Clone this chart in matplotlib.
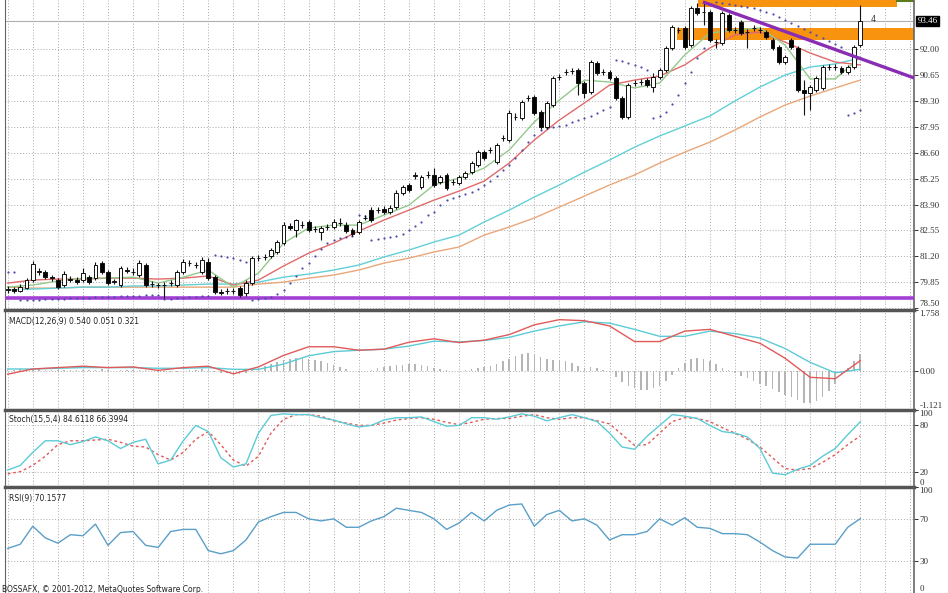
import matplotlib
matplotlib.use("Agg")
import matplotlib.pyplot as plt
from matplotlib.transforms import blended_transform_factory

# --- daily bars (price) ---
opens = [79.45, 79.50, 79.39, 79.55, 79.97, 80.44, 80.38, 80.12, 79.97, 79.71,
         80.02, 79.97, 79.97, 80.12, 80.07, 80.85, 80.38, 79.86, 79.71, 80.49,
         80.38, 80.23, 80.75, 79.76, 79.71, 79.71, 79.81, 79.71, 80.38, 80.85,
         80.75, 80.38, 80.90, 80.12, 79.34, 79.39, 79.39, 79.55, 79.29, 79.81,
         81.11, 81.17, 81.22, 81.43, 81.89, 82.78, 82.57, 82.83, 82.99, 82.62,
         82.47, 82.73, 82.73, 82.94, 82.83, 82.57, 82.47, 83.20, 83.61, 83.61,
         83.66, 83.51, 83.77, 84.50, 84.92, 85.38, 84.81, 85.44, 85.44, 85.07,
         85.44, 85.07, 85.02, 85.33, 85.59, 85.96, 86.63, 86.74, 86.11, 87.36,
         87.26, 88.46, 88.40, 89.45, 89.50, 88.72, 87.94, 89.08, 90.54, 90.80,
         90.85, 90.90, 90.23, 89.76, 91.27, 90.80, 90.80, 90.49, 89.45, 88.46,
         90.23, 90.28, 90.38, 90.02, 90.54, 90.90, 92.05, 92.99, 93.09, 92.21,
         94.13, 93.93, 93.93, 92.36, 92.31, 93.77, 92.99, 93.40, 92.88, 93.09,
         92.99, 92.88, 92.47, 92.10, 91.32, 92.47, 92.05, 89.86, 89.71, 89.86,
         89.97, 91.06, 91.06, 91.01, 90.80, 91.06, 92.21]
closes = [79.50, 79.39, 79.60, 79.97, 80.80, 80.38, 80.12, 80.07, 79.60, 80.28,
          79.97, 79.86, 80.33, 79.86, 80.75, 80.38, 79.81, 79.92, 80.59, 80.46,
          80.40, 80.85, 79.71, 79.74, 79.70, 79.72, 79.82, 80.38, 80.90, 80.84,
          80.74, 81.01, 80.07, 79.34, 79.32, 79.38, 79.40, 79.19, 79.81, 81.11,
          81.13, 81.16, 81.53, 81.95, 82.83, 82.68, 83.09, 82.82, 82.57, 82.63,
          82.68, 82.74, 82.99, 82.93, 82.52, 82.36, 82.99, 83.21, 83.09, 83.62,
          83.51, 83.72, 84.50, 84.81, 84.65, 85.44, 85.33, 85.43, 84.92, 85.33,
          84.76, 85.06, 85.33, 85.54, 86.06, 86.63, 86.32, 86.73, 86.99, 87.37,
          88.66, 88.45, 89.24, 89.46, 88.66, 87.94, 89.19, 90.49, 90.55, 90.81,
          90.84, 90.23, 89.71, 91.32, 90.75, 90.81, 90.49, 89.45, 88.46, 90.12,
          90.24, 90.27, 90.12, 90.54, 90.90, 92.05, 93.14, 92.98, 92.10, 94.13,
          93.87, 93.92, 92.47, 92.37, 93.87, 92.99, 93.00, 92.83, 92.89, 93.08,
          93.00, 92.62, 92.05, 91.32, 91.58, 92.10, 89.86, 89.71, 90.02, 90.49,
          91.06, 91.07, 91.05, 90.80, 91.06, 92.10, 93.46]
highs = [79.66, 79.60, 79.76, 80.07, 80.96, 80.59, 80.49, 80.23, 80.07, 80.44,
         80.18, 80.12, 80.59, 80.23, 80.90, 80.96, 80.49, 80.02, 80.70, 80.64,
         80.59, 81.01, 80.85, 79.92, 79.81, 79.86, 79.97, 80.49, 81.06, 81.01,
         80.90, 81.17, 81.11, 80.23, 79.50, 79.55, 79.55, 79.66, 79.97, 81.22,
         81.27, 81.32, 81.63, 82.05, 82.99, 82.94, 83.14, 83.04, 83.09, 82.78,
         82.78, 82.88, 83.14, 83.20, 82.99, 82.68, 83.09, 83.35, 83.77, 83.77,
         83.82, 83.87, 84.65, 84.92, 85.02, 85.59, 85.44, 85.64, 85.80, 85.44,
         85.54, 85.23, 85.44, 85.64, 86.16, 86.74, 86.74, 86.89, 87.10, 87.52,
         88.82, 88.66, 89.34, 89.60, 89.60, 88.82, 89.29, 90.59, 90.70, 90.96,
         91.01, 91.01, 90.33, 91.43, 91.37, 90.96, 90.90, 90.59, 89.55, 90.23,
         90.38, 90.44, 90.49, 90.75, 91.01, 92.15, 93.25, 93.14, 93.20, 94.24,
         94.39, 94.45, 94.03, 92.52, 93.98, 93.87, 93.14, 93.51, 93.04, 93.25,
         93.14, 92.99, 92.57, 92.21, 91.69, 92.57, 92.15, 90.38, 90.12, 90.59,
         91.17, 91.22, 91.22, 91.11, 91.17, 92.21, 94.29]
lows = [79.29, 79.29, 79.34, 79.50, 79.86, 80.23, 80.02, 79.92, 79.50, 79.60,
        79.86, 79.76, 79.86, 79.76, 79.97, 80.28, 79.71, 79.76, 79.60, 80.33,
        80.23, 80.12, 79.60, 79.60, 79.55, 79.03, 79.66, 79.60, 80.28, 80.70,
        80.59, 80.28, 79.97, 79.24, 79.19, 79.24, 79.24, 79.08, 79.13, 79.71,
        80.96, 81.01, 81.11, 81.32, 81.79, 82.57, 82.21, 82.68, 82.47, 82.47,
        82.05, 82.57, 82.62, 82.78, 82.42, 82.26, 82.36, 83.09, 82.99, 83.46,
        83.40, 83.40, 83.66, 84.39, 84.55, 85.23, 84.71, 85.28, 84.81, 84.97,
        84.65, 84.92, 84.92, 85.23, 85.49, 85.85, 86.22, 86.58, 86.01, 87.21,
        87.15, 88.30, 88.30, 89.29, 88.56, 87.83, 87.83, 88.98, 90.38, 90.64,
        90.70, 89.60, 89.45, 89.65, 90.64, 90.64, 90.38, 89.34, 88.35, 88.35,
        90.07, 90.12, 90.02, 89.76, 90.44, 90.80, 91.95, 92.83, 92.00, 92.10,
        93.77, 93.25, 92.36, 92.05, 92.21, 92.88, 92.83, 92.73, 92.05, 92.94,
        92.83, 92.52, 91.95, 91.22, 91.22, 92.00, 89.76, 88.56, 88.82, 89.76,
        89.86, 90.90, 90.90, 90.70, 90.70, 90.96, 92.10]

# parabolic SAR, one dot per bar
sar = [80.38, 80.38,
       78.92, 78.92, 78.92, 78.92, 78.98, 78.98, 78.98, 78.98, 79.03, 79.03, 79.03, 79.03,
       79.08, 79.08, 79.08, 79.08, 79.13, 79.13, 79.13, 79.13, 79.19, 79.19, 79.19,
       78.98, 78.98, 79.03, 79.03, 79.08, 79.08, 79.13, 79.13,
       81.27, 81.22, 81.17, 81.11, 81.01, 80.90,
       78.92, 78.98, 79.03, 79.08, 79.24, 79.45, 79.81, 80.18, 80.59, 80.85, 81.22, 81.58,
       81.89, 82.05, 82.16, 82.21, 82.26,
       83.35, 83.30,
       82.05, 82.10, 82.16, 82.21, 82.26, 82.36, 82.57, 82.78, 82.99, 83.35, 83.51, 83.87,
       84.13, 84.24, 84.34, 84.45, 84.55, 84.71, 84.92, 85.12, 85.38, 85.70, 85.96, 86.32,
       86.74, 87.15, 87.52, 87.78, 87.88, 87.94, 87.99, 88.04,
       88.20, 88.30, 88.40, 88.51, 88.66, 88.82, 88.98,
       91.43, 91.37, 91.27, 91.17, 91.06, 90.90,
       88.40, 88.51, 88.72, 89.13, 89.60, 90.23, 90.80,
       91.53, 92.05, 92.47,
       94.45, 94.39, 94.34, 94.29, 94.24, 94.19, 94.13, 94.03, 93.93, 93.82, 93.66, 93.51,
       93.35, 93.20, 93.04, 92.88, 92.73, 92.57, 92.41, 92.26, 92.10,
       88.56, 88.66, 88.82]

# moving averages, read every 4th bar
ma_bars = list(range(0, 137, 4))
ma_green = [79.60, 79.71, 79.92, 80.07, 80.07, 80.12, 79.81, 80.12, 80.49, 79.60,
            80.33, 81.89, 82.68, 82.83, 82.83, 83.35, 83.87, 84.92, 85.28, 85.80,
            86.74, 88.20, 89.34, 90.38, 90.28, 89.97, 90.23, 91.69, 92.83, 92.99,
            93.09, 92.21, 90.44, 90.44, 91.58]
ma_red = [79.81, 79.97, 80.02, 80.02, 80.07, 80.07, 80.02, 80.07, 80.18, 79.71,
          79.97, 80.70, 81.37, 81.89, 82.52, 83.09, 83.61, 84.13, 84.60, 85.12,
          86.06, 87.26, 88.30, 89.19, 90.12, 90.38, 90.59, 91.17, 92.05, 92.73,
          92.88, 92.36, 91.79, 91.32, 91.17]
ma_cyan = [79.45, 79.50, 79.55, 79.60, 79.60, 79.66, 79.66, 79.71, 79.76, 79.76,
           79.86, 80.12, 80.28, 80.49, 80.75, 81.17, 81.53, 81.95, 82.31, 82.99,
           83.61, 84.29, 84.92, 85.59, 86.22, 86.89, 87.47, 87.99, 88.51, 89.29,
           90.02, 90.64, 91.06, 91.22, 91.53]
ma_orange = [79.60, 79.55, 79.55, 79.60, 79.60, 79.60, 79.60, 79.60, 79.60, 79.60,
             79.76, 79.86, 80.07, 80.23, 80.49, 80.85, 81.11, 81.43, 81.69, 82.31,
             82.73, 83.20, 83.77, 84.34, 84.92, 85.44, 86.06, 86.63, 87.15, 87.78,
             88.46, 89.08, 89.55, 89.97, 90.38]

# MACD lines (every 4th bar) and histogram (every bar)
macd_main = [-0.09, 0.06, 0.10, 0.14, 0.10, 0.12, 0.02, 0.10, 0.14, -0.08,
             0.12, 0.45, 0.70, 0.70, 0.60, 0.63, 0.83, 0.93, 0.82, 0.89,
             1.05, 1.33, 1.48, 1.45, 1.30, 0.85, 0.85, 1.15, 1.20, 1.00,
             0.80, 0.37, -0.18, -0.22, 0.30]
macd_signal = [0.06, 0.06, 0.08, 0.10, 0.10, 0.10, 0.08, 0.08, 0.10, 0.05,
               0.05, 0.20, 0.44, 0.56, 0.60, 0.63, 0.72, 0.86, 0.84, 0.88,
               0.97, 1.15, 1.30, 1.42, 1.38, 1.20, 1.00, 1.00, 1.15, 1.08,
               0.95, 0.65, 0.25, -0.05, 0.05]
macd_hist = [0.03, 0.04, 0.05, 0.05, 0.06, 0.05, 0.04, 0.03, 0.02, 0.02, 0.03,
             0.03, 0.04, 0.03, 0.04, 0.05, 0.03, 0.01, 0.02, 0.03, 0.03,
             0.04, 0.02, 0.00, -0.02, -0.03, -0.03, -0.02, 0.00, 0.02, 0.04,
             0.05, 0.03, -0.02, -0.05, -0.07, -0.08, -0.08, -0.06,
             0.02, 0.08, 0.14, 0.20, 0.26, 0.32, 0.36, 0.38, 0.38, 0.36, 0.33, 0.30,
             0.24, 0.18, 0.12, 0.06, 0.00, -0.03, 0.00, 0.04, 0.08, 0.12, 0.15, 0.17,
             0.18, 0.19, 0.19, 0.17, 0.14, 0.10, 0.06, 0.02, 0.00, 0.01,
             0.04, 0.06, 0.10, 0.12, 0.15, 0.20, 0.28, 0.36,
             0.44, 0.50, 0.52, 0.48, 0.40, 0.36, 0.32, 0.30, 0.28, 0.22, 0.15,
             0.10, 0.12, 0.08, 0.04, -0.02,
             -0.18, -0.32, -0.42, -0.50, -0.54, -0.54, -0.50, -0.42, -0.30,
             -0.12, 0.08, 0.24, 0.34, 0.38, 0.36, 0.30, 0.20,
             0.10, 0.02, -0.06, -0.14, -0.20,
             -0.28, -0.36, -0.44, -0.52, -0.60, -0.68, -0.76, -0.84, -0.92, -0.92, -0.86, -0.74, -0.58,
             -0.36, -0.12, 0.10, 0.30, 0.48]

# oscillators, read every 2nd bar
osc_bars = list(range(0, 137, 2))
stoch_main = [22, 28, 45, 60, 60, 55, 59, 65, 60, 50, 58, 62, 30, 35, 60, 80, 72, 38, 26, 30,
              70, 93, 95, 94, 94, 90, 87, 82, 78, 80, 87, 90, 90, 91, 85, 79, 80, 90, 90, 88,
              91, 95, 92, 86, 90, 94, 90, 85, 70, 52, 49, 66, 80, 94, 92, 89, 80, 72, 70, 65,
              50, 18, 16, 23, 28, 40, 50, 68, 84.61]
stoch_signal = [17, 20, 28, 40, 55, 60, 60, 61, 62, 58, 53, 52, 42, 35, 45, 62, 72, 55, 35, 27,
                40, 70, 88, 94, 94, 92, 86, 83, 80, 80, 83, 87, 89, 90, 88, 84, 81, 84, 88, 89,
                89, 92, 94, 90, 88, 90, 90, 86, 82, 68, 54, 55, 70, 85, 90, 89, 85, 77, 70, 62,
                52, 38, 24, 22, 24, 32, 42, 55, 66.40]
rsi = [42, 46, 63, 52, 47, 55, 54, 65, 45, 57, 58, 45, 43, 58, 60, 60, 40, 37, 40, 50,
       67, 72, 76, 76, 70, 68, 70, 62, 62, 68, 72, 80, 78, 76, 70, 60, 66, 76, 68, 78,
       83, 84, 63, 74, 78, 68, 70, 64, 50, 55, 55, 58, 70, 64, 71, 62, 61, 56, 56, 55,
       48, 40, 34, 33, 46, 46, 46, 62, 70.16]

price_ticks = [92.00, 90.65, 89.30, 87.95, 86.60, 85.25, 83.90, 82.55, 81.20, 79.85, 78.50]
last_price = 93.46
support = 79.02
trend_start = (110.9, 94.45)
trend_end = (144.6, 90.49)

W, H = 948, 593
fig = plt.figure(figsize=(W / 100, H / 100), dpi=100)


def panel(top, bottom):
    return fig.add_axes([5 / W, 1 - bottom / H, 909 / W, (bottom - top) / H])


ax = panel(0, 310)
axm = panel(310, 410)
axs = panel(410, 487)
axr = panel(487, 593)

grid_kw = dict(color="#a9a9a9", linestyle=(0, (1, 2)), linewidth=0.7)
lab_font = dict(family="Liberation Serif", size=6.5)

for a in (ax, axm, axs, axr):
    a.set_xlim(-0.43, 144.57)
    a.set_xticks(range(0, 145, 4))
    a.tick_params(axis="x", length=0, labelbottom=False)
    a.xaxis.grid(True, **grid_kw)
    a.yaxis.tick_right()
    a.tick_params(axis="y", length=3, width=0.7, pad=1, colors="#333333", labelsize=6.5)
    for s in a.spines.values():
        s.set_color("#666666")
        s.set_linewidth(0.8)
    a.spines["right"].set_linewidth(1.2)
    a.set_axisbelow(True)
for a in (axm, axs, axr):
    a.spines["top"].set_linewidth(2.5)
    a.spines["top"].set_color("#555555")
ax.spines["top"].set_visible(False)


def right_labels(a, ticks, texts):
    a.set_yticks(ticks)
    labs = a.set_yticklabels(texts, fontdict=lab_font)
    return labs


# ---- main price panel ----
ax.set_ylim(78.41, 94.55)
labs = right_labels(ax, price_ticks, ["%.2f" % t for t in price_ticks])
labs[-1].set_verticalalignment("bottom")
ax.yaxis.grid(True, **grid_kw)

ax.axhline(last_price, color="#b0b0b0", lw=0.8, zorder=1)
ax.axhline(support, color="#a43fd6", lw=2.6, zorder=3)
ax.fill_between([106.7, 144.57], 92.47, 93.09, color="#f7930f", lw=0, zorder=1)
ax.fill_between([110.1, 141.9], 94.19, 94.55, color="#f7930f", lw=0, zorder=1)
ax.plot([141.9, 144.57], [94.52, 94.52], color="#5b7a1e", lw=1.5, zorder=2)
ax.plot([trend_start[0], trend_end[0]], [trend_start[1], trend_end[1]],
        color="#8a2db5", lw=2.4, zorder=5, solid_capstyle="butt")

ax.plot(ma_bars, ma_orange, color="#e9a77a", lw=1.0, zorder=2)
ax.plot(ma_bars, ma_cyan, color="#62d0d6", lw=1.0, zorder=2)
ax.plot(ma_bars, ma_red, color="#e06a6a", lw=1.0, zorder=2)
ax.plot(ma_bars, ma_green, color="#93c98a", lw=1.0, zorder=2)

bars = list(range(len(closes)))
ax.vlines(bars, lows, highs, color="#111111", lw=0.8, zorder=4)
for i in bars:
    o, c = opens[i], closes[i]
    body = max(abs(c - o), 0.02)
    face = "white" if c >= o else "black"
    ax.bar(i, body, bottom=min(o, c), width=0.62, color=face,
           edgecolor="#111111", lw=0.7, zorder=4)

ax.scatter(bars, sar, s=2.5, color="#4b4ba8", zorder=3, linewidths=0)

trans = blended_transform_factory(ax.transAxes, ax.transData)
ax.text(1.004, last_price, "%.2f" % last_price, transform=trans, ha="left", va="center",
        color="white", fontsize=6.5, family="Liberation Serif",
        bbox=dict(boxstyle="square,pad=0.15", fc="black", ec="black"))
ax.text(137.6, 93.55, "4", fontsize=6, color="#444444", ha="left", va="center")

# ---- MACD ----
axm.set_ylim(-1.121, 1.758)
labs = right_labels(axm, [1.758, 0.0, -1.121], ["1.758", "0.00", "-1.121"])
labs[0].set_verticalalignment("top")
labs[2].set_verticalalignment("bottom")
axm.axhline(0, **grid_kw)
axm.bar(bars, macd_hist, width=0.25, color="#b5b5b5", zorder=2)
axm.plot(ma_bars, macd_signal, color="#5ccbd6", lw=1.0, zorder=3)
axm.plot(ma_bars, macd_main, color="#e05a5a", lw=1.0, zorder=3)
axm.text(0.004, 0.93, "MACD(12,26,9) 0.540 0.051 0.321", transform=axm.transAxes,
         fontsize=5.5, va="top", color="#222222")

# ---- Stochastic ----
axs.set_ylim(0, 100)
labs = right_labels(axs, [100, 80, 20, 0], ["100", "80", "20", "0"])
labs[0].set_verticalalignment("top")
labs[3].set_verticalalignment("bottom")
axs.axhline(80, **grid_kw)
axs.axhline(20, **grid_kw)
axs.plot(osc_bars, stoch_signal, color="#e05a5a", lw=1.0, linestyle=(0, (2, 2)), zorder=3)
axs.plot(osc_bars, stoch_main, color="#5ccbd6", lw=1.0, zorder=3)
axs.text(0.004, 0.93, "Stoch(15,5,4) 84.6118 66.3994", transform=axs.transAxes,
         fontsize=5.5, va="top", color="#222222")

# ---- RSI ----
axr.set_ylim(0, 100)
labs = right_labels(axr, [100, 70, 30, 0], ["100", "70", "30", "0"])
labs[0].set_verticalalignment("top")
labs[3].set_verticalalignment("bottom")
axr.axhline(70, **grid_kw)
axr.axhline(30, **grid_kw)
axr.plot(osc_bars, rsi, color="#5a9fc8", lw=1.0, zorder=3)
axr.text(0.004, 0.93, "RSI(9) 70.1577", transform=axr.transAxes,
         fontsize=5.5, va="top", color="#222222")
axr.spines["bottom"].set_visible(False)

fig.text(2 / W, 1 - 589 / H, "BOSSAFX, \u00a9 2001-2012, MetaQuotes Software Corp.",
         fontsize=5.5, color="#222222", va="center")

fig.savefig("out.png", dpi=100)
